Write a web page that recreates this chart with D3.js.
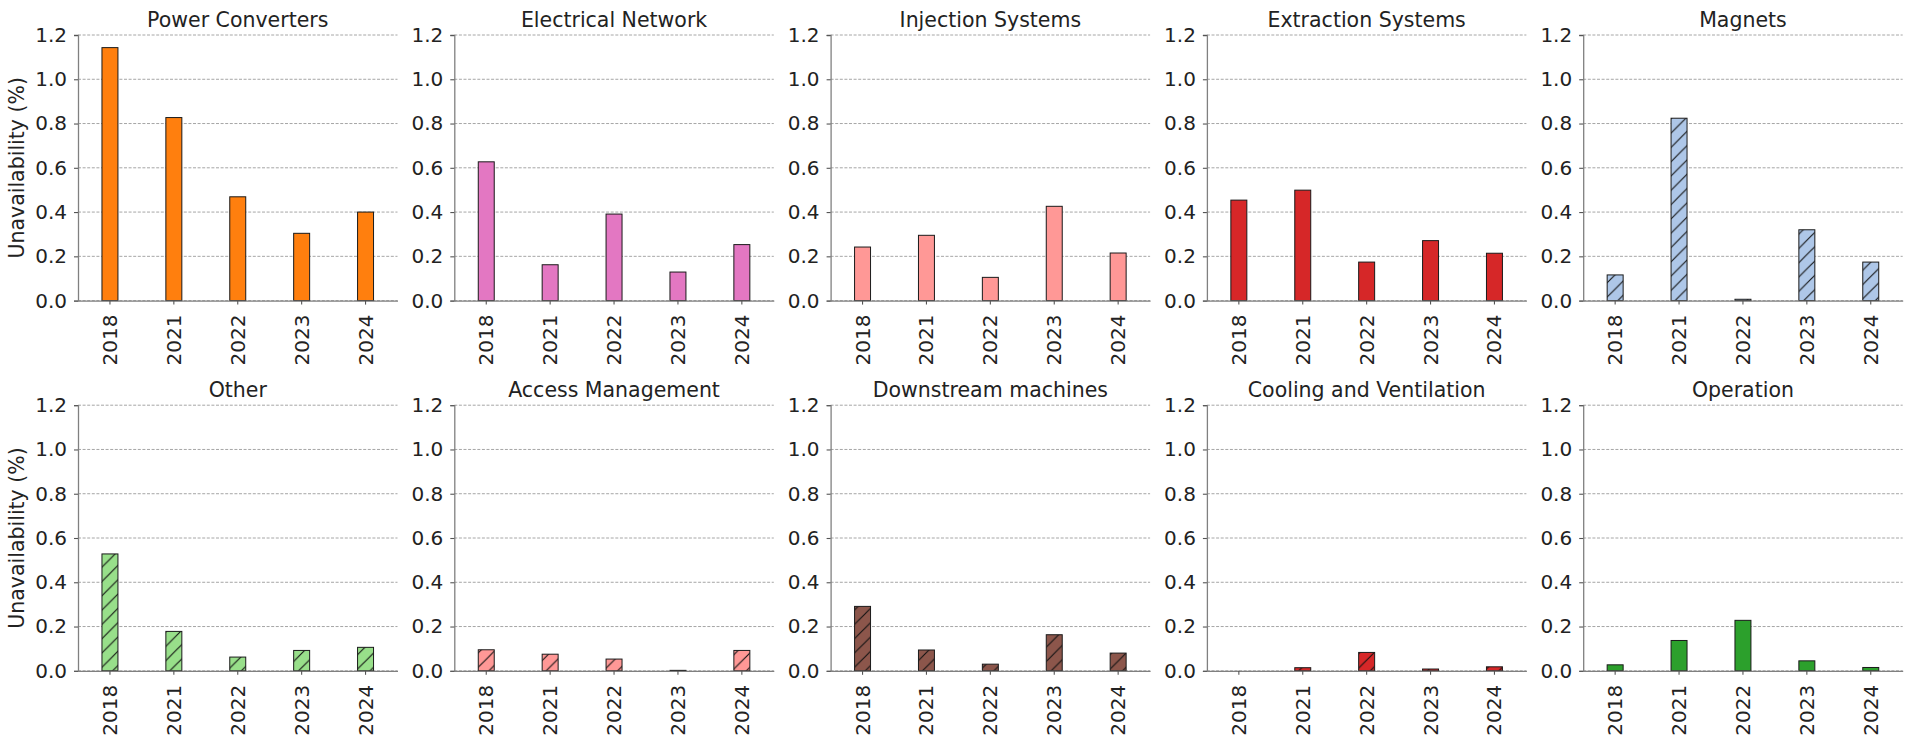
<!DOCTYPE html>
<html>
<head>
<meta charset="utf-8">
<script src="https://cdn.jsdelivr.net/npm/d3@7"></script>
<style>
  body { margin: 0; background: #fff; }
  svg { display: block; font-family: "DejaVu Sans", sans-serif; }
</style>
</head>
<body>
<svg id="chart" width="1905" height="743"></svg>
<script>
// Categories and tick labels
const years = ["2018", "2021", "2022", "2023", "2024"];
const yTicks = [0, 0.2, 0.4, 0.6, 0.8, 1.0, 1.2];
const systems = [
  "Power Converters", "Electrical Network", "Injection Systems", "Extraction Systems", "Magnets",
  "Other", "Access Management", "Downstream machines", "Cooling and Ventilation", "Operation"
];

// Unavailability (%) per system, one value per year
const powerConverters     = [1.143, 0.827, 0.469, 0.304, 0.400];
const electricalNetwork   = [0.627, 0.162, 0.391, 0.129, 0.253];
const injectionSystems    = [0.242, 0.295, 0.105, 0.426, 0.215];
const extractionSystems   = [0.454, 0.499, 0.174, 0.271, 0.214];
const magnets             = [0.116, 0.824, 0.006, 0.320, 0.174];
const other               = [0.528, 0.178, 0.062, 0.092, 0.106];
const accessManagement    = [0.095, 0.075, 0.053, 0.002, 0.092];
const downstreamMachines  = [0.291, 0.094, 0.030, 0.163, 0.080];
const coolingVentilation  = [0.000, 0.014, 0.083, 0.008, 0.018];
const operation           = [0.027, 0.137, 0.228, 0.045, 0.015];

const seriesValues = [
  powerConverters, electricalNetwork, injectionSystems, extractionSystems, magnets,
  other, accessManagement, downstreamMachines, coolingVentilation, operation
];
const fillColors = [
  "#ff7f0e", "#e377c2", "#ff9896", "#d62728", "#aec7e8",
  "#98df8a", "#ff9896", "#8c564b", "#d62728", "#2ca02c"
];
const hatched = [false, false, false, false, true, true, true, true, true, false];

// Panel geometry
const nCols = 5;
const panelLeft0 = 78, panelStep = 376.3, panelW = 319.5;
const rowTops = [35, 405.2], panelH = 265.6;
const barFrac = 0.25;

const svg = d3.select("#chart");

// Diagonal hatch pattern per hatched colour
const defs = svg.append("defs");
const hatchStep = 14.3;
function hatchId(i) { return "hatch-" + i; }
seriesValues.forEach((_, i) => {
  if (!hatched[i]) return;
  const p = defs.append("pattern")
    .attr("id", hatchId(i))
    .attr("patternUnits", "userSpaceOnUse")
    .attr("width", hatchStep).attr("height", hatchStep);
  p.append("rect").attr("width", hatchStep).attr("height", hatchStep).attr("fill", fillColors[i]);
  p.append("path")
    .attr("d", `M${-hatchStep / 2},${hatchStep / 2} L${hatchStep / 2},${-hatchStep / 2}` +
               ` M0,${hatchStep} L${hatchStep},0` +
               ` M${hatchStep / 2},${hatchStep * 1.5} L${hatchStep * 1.5},${hatchStep / 2}`)
    .attr("stroke", "#111").attr("stroke-width", 1.1).attr("fill", "none");
});

const textColor = "#222";

seriesValues.forEach((values, i) => {
  const col = i % nCols, row = Math.floor(i / nCols);
  const left = panelLeft0 + col * panelStep, top = rowTops[row];

  const x = d3.scaleBand().domain(years).range([0, panelW]).padding(0);
  const y = d3.scaleLinear().domain([0, 1.2]).range([panelH, 0]);

  const g = svg.append("g").attr("transform", `translate(${left},${top})`);

  // dashed horizontal grid
  g.append("g").selectAll("line").data(yTicks).join("line")
    .attr("x1", 0).attr("x2", panelW)
    .attr("y1", d => y(d)).attr("y2", d => y(d))
    .attr("stroke", "#a6a6a6").attr("stroke-width", 1)
    .attr("stroke-dasharray", "3,1.6");

  // bars
  const bw = x.bandwidth() * barFrac;
  g.append("g").selectAll("rect").data(values).join("rect")
    .attr("x", (d, k) => x(years[k]) + x.bandwidth() / 2 - bw / 2)
    .attr("y", d => y(d))
    .attr("width", bw)
    .attr("height", d => y(0) - y(d))
    .attr("fill", hatched[i] ? `url(#${hatchId(i)})` : fillColors[i])
    .attr("stroke", "#1a1a1a").attr("stroke-width", 1);

  // y axis
  const yAxis = g.append("g")
    .call(d3.axisLeft(y).tickValues(yTicks).tickFormat(d3.format(".1f")).tickSize(4).tickPadding(7));
  yAxis.select(".domain").attr("stroke", "#808080").attr("stroke-width", 1.3);
  yAxis.selectAll(".tick line").attr("stroke", "#555").attr("stroke-width", 1.1);
  yAxis.selectAll(".tick text").attr("fill", textColor)
    .style("font-size", "20px").style("font-family", "DejaVu Sans");

  // x axis
  const xAxis = g.append("g").attr("transform", `translate(0,${panelH})`)
    .call(d3.axisBottom(x).tickSize(4).tickSizeOuter(0).tickPadding(0));
  xAxis.select(".domain").attr("stroke", "#808080").attr("stroke-width", 1.3);
  xAxis.selectAll(".tick line").attr("stroke", "#555").attr("stroke-width", 1.1);
  xAxis.selectAll(".tick text")
    .attr("fill", textColor)
    .style("font-size", "20px").style("font-family", "DejaVu Sans")
    .attr("y", 0).attr("dy", null)
    .attr("text-anchor", "end")
    .attr("dominant-baseline", "central")
    .attr("transform", "translate(0,14) rotate(-90)");

  // panel title
  g.append("text")
    .attr("x", panelW / 2).attr("y", -8.3)
    .attr("text-anchor", "middle")
    .attr("fill", textColor)
    .style("font-size", "20.5px")
    .text(systems[i]);

  // y axis label on the first column
  if (col === 0) {
    g.append("text")
      .attr("transform", `translate(${17 - left},${panelH / 2}) rotate(-90)`)
      .attr("text-anchor", "middle")
      .attr("dominant-baseline", "central")
      .attr("fill", textColor)
      .style("font-size", "20.5px")
      .text("Unavailability (%)");
  }
});
</script>
</body>
</html>
